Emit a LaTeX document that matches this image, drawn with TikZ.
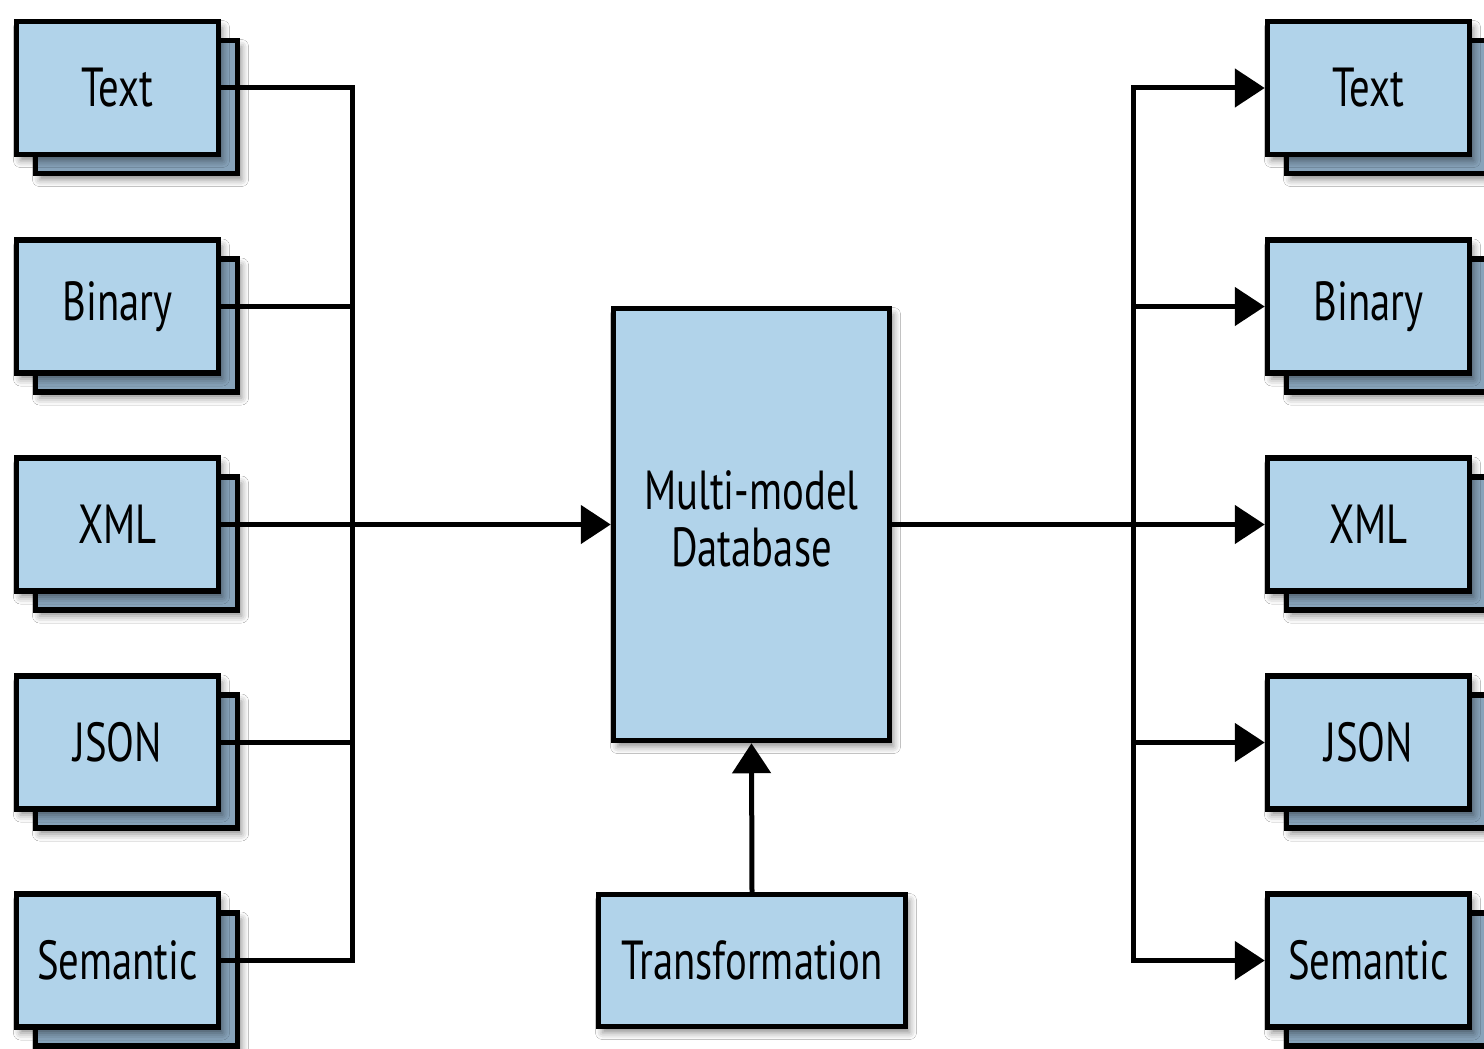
\documentclass[tikz,border=0pt]{standalone}
\usepackage{fontspec}
\setmainfont{PT Sans}[FakeStretch=0.74]
\usetikzlibrary{arrows.meta,shadows.blur}
\definecolor{boxblue}{HTML}{B1D3EA}
\definecolor{backblue}{HTML}{87A3BA}
\tikzset{
  shad/.style={blur shadow={shadow xshift=4pt, shadow yshift=-6pt, shadow blur radius=7pt, shadow opacity=45}},
  frontbox/.style={draw, line width=5.5pt, fill=boxblue, inner sep=0pt,
    minimum width=202pt, minimum height=133pt, font=\fontsize{55}{60}\selectfont, shad},
  backbox/.style={draw, line width=5.5pt, fill=backblue, inner sep=0pt,
    minimum width=202pt, minimum height=133pt, shad},
  bigbox/.style={draw, line width=5.5pt, fill=boxblue, inner sep=0pt, align=center,
    font=\fontsize{55}{57}\selectfont, shad},
  conn/.style={line width=5pt, line join=miter},
  arrow/.style={conn, -{Triangle[length=30pt,width=38pt]}},
}
\begin{document}
\begin{tikzpicture}[x=1pt,y=-1pt]
\useasboundingbox (0,0) rectangle (1484,1049);
\fill[white] (0,0) rectangle (1484,1049);
\foreach \i/\yy/\t in {1/88/Text,2/306.5/Binary,3/524.5/XML,4/742.5/JSON,5/960.5/Semantic}{
  \node[backbox] (LB\i) at (136.5,\yy+19) {};
  \node[frontbox] (L\i) at (117.5,\yy) {\t};
  \node[backbox] (RB\i) at (1387.5,\yy+19) {};
  \node[frontbox] (R\i) at (1368.5,\yy) {\t};
}
\node[bigbox, minimum width=276pt, minimum height=432pt] (db) at (751.5,524.5) {};
\node (dbt) at (751.5,519) [align=center, font=\fontsize{55}{57}\selectfont, inner sep=0pt] {Multi-model\\Database};
\node[bigbox, minimum width=307pt, minimum height=132pt] (tr) at (752,960.5) {Transformation};
\coordinate (busL) at (352,0);
\coordinate (busR) at (1133,0);
\draw[conn] (L1.east) -- (L1.east -| busL) -- (L5.east -| busL) -- (L5.east);
\draw[conn] (L2.east) -- (L2.east -| busL);
\draw[conn] (L4.east) -- (L4.east -| busL);
\draw[arrow] (L3.east) -- (db.west);
\draw[arrow] (tr.north) -- (db.south);
\draw[arrow] (db.east) -- (R3.west);
\draw[arrow] (R3.west -| busR) |- (R1.west);
\draw[arrow] (R3.west -| busR) |- (R5.west);
\draw[arrow] (R2.west -| busR) -- (R2.west);
\draw[arrow] (R4.west -| busR) -- (R4.west);
\end{tikzpicture}
\end{document}
